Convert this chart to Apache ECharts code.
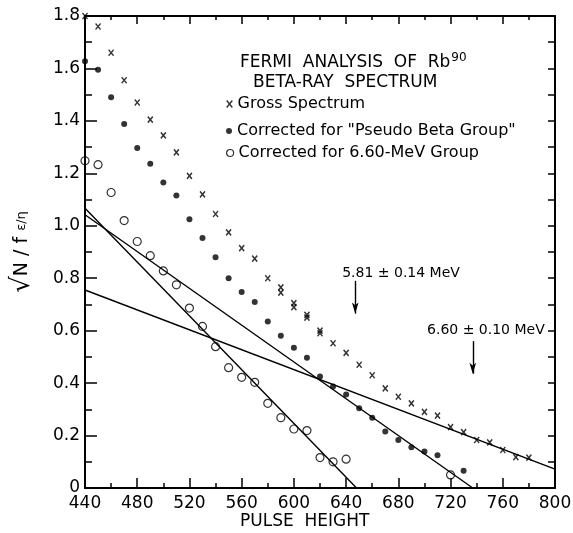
<!DOCTYPE html>
<html>
<head>
<meta charset="utf-8">
<script src="https://cdn.jsdelivr.net/npm/echarts@6/dist/echarts.min.js"></script>
<style>
  html, body { margin: 0; background: #fff; }
  #chart { width: 573px; height: 533px; }
</style>
</head>
<body>
<div id="chart"></div>
<script>
// 读图得到的数据
const grossX = [440, 450, 460, 470, 480, 490, 500, 510, 520, 530, 540, 550, 560, 570, 580, 590, 590, 600, 600, 610, 610, 620, 620, 630, 640, 650, 660, 670, 680, 690, 700, 710, 720, 730, 740, 750, 760, 770, 780]
const grossY = [1.80, 1.76, 1.66, 1.555, 1.47, 1.405, 1.345, 1.28, 1.19, 1.12, 1.045, 0.975, 0.915, 0.875, 0.80, 0.765, 0.745, 0.705, 0.69, 0.66, 0.65, 0.60, 0.59, 0.552, 0.515, 0.47, 0.43, 0.38, 0.348, 0.323, 0.29, 0.276, 0.232, 0.213, 0.183, 0.174, 0.145, 0.118, 0.116]

const pseudoX = [440, 450, 460, 470, 480, 490, 500, 510, 520, 530, 540, 550, 560, 570, 580, 590, 600, 610, 620, 630, 640, 650, 660, 670, 680, 690, 700, 710, 730]
const pseudoY = [1.627, 1.595, 1.49, 1.388, 1.297, 1.237, 1.165, 1.115, 1.025, 0.953, 0.88, 0.80, 0.747, 0.709, 0.635, 0.581, 0.535, 0.497, 0.425, 0.387, 0.357, 0.304, 0.268, 0.215, 0.183, 0.155, 0.139, 0.125, 0.066]

const openX = [440, 450, 460, 470, 480, 490, 500, 510, 520, 530, 540, 550, 560, 570, 580, 590, 600, 610, 620, 630, 640, 720]
const openY = [1.248, 1.233, 1.127, 1.02, 0.94, 0.886, 0.828, 0.775, 0.686, 0.616, 0.539, 0.459, 0.422, 0.403, 0.323, 0.268, 0.225, 0.219, 0.116, 0.10, 0.11, 0.05]

// 拟合直线（两端点）
const fitA = [[440, 1.067], [648, 0]]
const fitB = [[440, 1.042], [737, 0]]
const fitC = [[440, 0.755], [800, 0.072]]

// 能量标注：箭头位置与文字
const arrow581 = [[647, 0.79], [647, 0.665]]
const arrow660 = [[737, 0.56], [737, 0.436]]
const note581 = { x: 637, y: 0.82, text: '5.81 ± 0.14 MeV' }
const note660 = { x: 702, y: 0.60, text: '6.60 ± 0.10 MeV' }

const xTicks = { min: 440, max: 800, interval: 40 }
const yTicks = { min: 0, max: 1.8, interval: 0.2 }

const FONT = 'DejaVu Sans'
const crossPath = 'path://M0,0L8,10M8,0L0,10'
const NAME_GROSS = 'Gross Spectrum'
const NAME_PSEUDO = 'Corrected for "Pseudo Beta Group"'
const NAME_OPEN = 'Corrected for 6.60-MeV Group'

const zip = (xs, ys) => xs.map((x, i) => [x, ys[i]])

const chart = echarts.init(document.getElementById('chart'))

const tickStyle = { color: '#000', width: 1.5 }

const fitLine = (pts) => ({
  type: 'line',
  data: pts,
  symbol: 'none',
  silent: true,
  z: 1,
  lineStyle: { color: '#000', width: 1.4 }
})

const legendBlock = (name, icon, top, w, h, style) => ({
  left: 226,
  top: top,
  padding: 0,
  itemWidth: w,
  itemHeight: h,
  selectedMode: false,
  textStyle: { color: '#000', fontSize: 16, fontFamily: FONT },
  data: [{ name: name, icon: icon, itemStyle: style }]
})

const option = {
  animation: false,
  backgroundColor: '#fff',
  grid: { left: 85, right: 18, top: 16, bottom: 45, outerBoundsMode: 'none' },
  legend: [
    legendBlock(NAME_GROSS, crossPath, 96, 6, 7, { color: '#000', borderColor: '#000', borderWidth: 1.4 }),
    legendBlock(NAME_PSEUDO, 'circle', 123, 6, 6, { color: '#000', borderWidth: 0 }),
    legendBlock(NAME_OPEN, 'circle', 145, 7, 7, { color: 'rgba(255,255,255,0)', borderColor: '#000', borderWidth: 1.2 })
  ],
  graphic: [
    {
      type: 'text',
      left: 240,
      top: 52,
      style: {
        text: '{a|FERMI  ANALYSIS  OF  Rb}{s|90}',
        rich: {
          a: { fontSize: 17, fontFamily: FONT, fill: '#000', lineHeight: 20 },
          s: { fontSize: 12, fontFamily: FONT, fill: '#000', verticalAlign: 'top', padding: [0, 0, 10, 1] }
        }
      }
    },
    {
      type: 'text',
      left: 253,
      top: 74,
      style: { text: 'BETA-RAY  SPECTRUM', fontSize: 17, fontFamily: FONT, fill: '#000' }
    },
    {
      type: 'text',
      left: 240,
      top: 513,
      style: { text: 'PULSE  HEIGHT', fontSize: 17, fontFamily: FONT, fill: '#000' }
    }
  ],
  xAxis: [
    {
      type: 'value',
      ...xTicks,
      axisLine: { lineStyle: { color: '#000', width: 2 } },
      axisTick: { inside: true, length: 10, lineStyle: tickStyle },
      minorTick: { show: true, splitNumber: 2, length: 5, lineStyle: tickStyle },
      splitLine: { show: false },
      axisLabel: { color: '#000', fontSize: 17, fontFamily: FONT, margin: 7 }
    },
    {
      type: 'value',
      position: 'top',
      ...xTicks,
      axisLine: { onZero: false, lineStyle: { color: '#000', width: 2 } },
      axisTick: { inside: true, length: 8, lineStyle: tickStyle },
      minorTick: { show: true, splitNumber: 2, length: 4, lineStyle: tickStyle },
      splitLine: { show: false },
      axisLabel: { show: false }
    }
  ],
  yAxis: [
    {
      type: 'value',
      ...yTicks,
      name: '{r|√}{n|N / f }{f|ε/η}',
      nameLocation: 'middle',
      nameGap: 50,
      nameTextStyle: {
        rich: {
          r: { fontSize: 26, fontFamily: FONT, color: '#000' },
          n: { fontSize: 19, fontFamily: FONT, color: '#000' },
          f: { fontSize: 13, fontFamily: FONT, color: '#000' }
        }
      },
      axisLine: { onZero: false, lineStyle: { color: '#000', width: 2 } },
      axisTick: { inside: true, length: 12, lineStyle: tickStyle },
      minorTick: { show: true, splitNumber: 2, length: 7, lineStyle: tickStyle },
      splitLine: { show: false },
      axisLabel: {
        color: '#000',
        fontSize: 17,
        fontFamily: FONT,
        margin: 5,
        formatter: (v) => (v === 0 ? '0' : v.toFixed(1))
      }
    },
    {
      type: 'value',
      position: 'right',
      ...yTicks,
      axisLine: { onZero: false, lineStyle: { color: '#000', width: 2 } },
      axisTick: { inside: true, length: 7, lineStyle: tickStyle },
      minorTick: { show: true, splitNumber: 2, length: 7, lineStyle: tickStyle },
      splitLine: { show: false },
      axisLabel: { show: false }
    }
  ],
  series: [
    fitLine(fitA),
    fitLine(fitB),
    fitLine(fitC),
    {
      name: NAME_GROSS,
      type: 'scatter',
      data: zip(grossX, grossY),
      symbol: crossPath,
      symbolSize: [5, 6],
      z: 3,
      itemStyle: { color: '#000', borderColor: '#000', borderWidth: 1.5 }
    },
    {
      name: NAME_PSEUDO,
      type: 'scatter',
      data: zip(pseudoX, pseudoY),
      symbol: 'circle',
      symbolSize: 6,
      z: 3,
      itemStyle: { color: '#000' }
    },
    {
      name: NAME_OPEN,
      type: 'scatter',
      data: zip(openX, openY),
      symbol: 'circle',
      symbolSize: 8,
      z: 3,
      itemStyle: { color: 'rgba(255,255,255,0)', borderColor: '#000', borderWidth: 1.2 }
    },
    {
      // 箭头和能量标注
      type: 'scatter',
      data: [],
      silent: true,
      markLine: {
        silent: true,
        symbol: ['none', 'arrow'],
        symbolSize: [5, 11],
        label: { show: false },
        lineStyle: { color: '#000', width: 1.4, type: 'solid' },
        data: [
          [{ coord: arrow581[0] }, { coord: arrow581[1] }],
          [{ coord: arrow660[0] }, { coord: arrow660[1] }]
        ]
      },
      markPoint: {
        silent: true,
        symbol: 'circle',
        symbolSize: 0,
        label: {
          show: true,
          position: 'right',
          distance: 0,
          color: '#000',
          fontSize: 14,
          fontFamily: FONT,
          formatter: (p) => p.name
        },
        data: [
          { name: note581.text, coord: [note581.x, note581.y] },
          { name: note660.text, coord: [note660.x, note660.y] }
        ]
      }
    }
  ]
}

chart.setOption(option)
</script>
</body>
</html>
